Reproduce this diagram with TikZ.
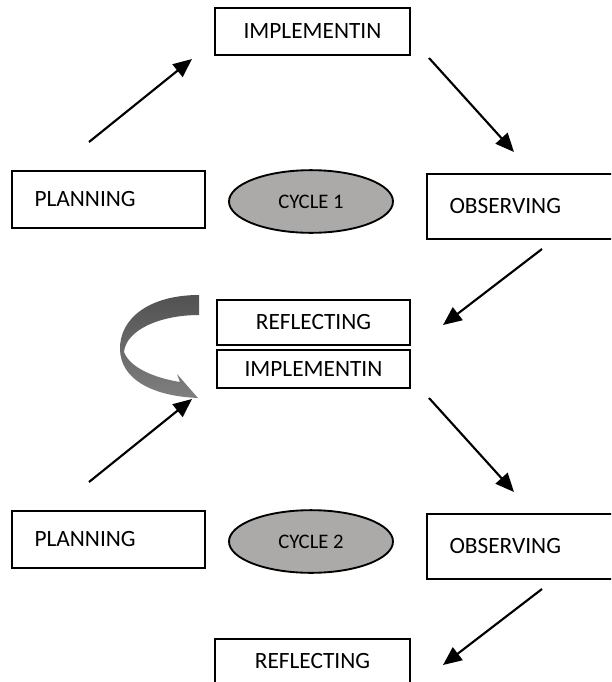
\documentclass[tikz,border=0pt]{standalone}
\usepackage{fontspec}
\setmainfont{Carlito}
\usetikzlibrary{shapes.geometric,arrows.meta}
\definecolor{cyclegray}{RGB}{172,169,169}
\tikzset{
  box/.style={draw, line width=1.5pt, minimum width=145pt, inner sep=0pt, font=\fontsize{17.5}{20}\selectfont},
  sidebox/.style={box, text width=111pt, align=left, minimum height=42.75pt},
  cycle/.style={draw, ellipse, line width=1.4pt, fill=cyclegray, minimum width=123pt, minimum height=47pt, inner sep=0pt, font=\fontsize{15.5}{18}\selectfont},
  arr/.style={line width=1.6pt, -{Triangle[length=14pt,width=12pt]}}
}
\begin{document}
\begin{tikzpicture}[x=0.75pt, y=-0.75pt]
        \clip (0,0) rectangle (611,682);
        \node [box, minimum width=146pt, minimum height=35.25pt] (impl1) at (312.5,31.5) {IMPLEMENTIN};
        \node [sidebox] (plan1) at (108.5,199.5) {PLANNING};
        \node [cycle] (cyc1) at (311,201.5) {CYCLE 1};
        \node [sidebox, minimum height=48.75pt] (obs1) at (523.5,206.5) {OBSERVING};
        \node [box, minimum height=33.75pt] (refl1) at (313.5,322.5) {REFLECTING};
        \node [box, minimum height=28.5pt] (impl2) at (313.5,369) {IMPLEMENTIN};
        \node [sidebox] (plan2) at (108.5,539.5) {PLANNING};
        \node [cycle] (cyc2) at (311,541.5) {CYCLE 2};
        \node [sidebox, minimum height=48.75pt] (obs2) at (523.5,546.5) {OBSERVING};
        \node [box, minimum width=146pt, minimum height=33.75pt] (refl2) at (312.5,661.5) {REFLECTING};
        \coordinate (a1) at (89,142);  \coordinate (b1) at (192,59);
        \coordinate (c1) at (429,58);  \coordinate (d1) at (514,152);
        \coordinate (e1) at (542,249); \coordinate (f1) at (443,325);
        \coordinate (a2) at (89,482);  \coordinate (b2) at (192,399);
        \coordinate (c2) at (429,398); \coordinate (d2) at (514,492);
        \coordinate (e2) at (542,589); \coordinate (f2) at (443,665);
        \draw [arr] (a1) -- (b1);
        \draw [arr] (c1) -- (d1);
        \draw [arr] (e1) -- (f1);
        \draw [arr] (a2) -- (b2);
        \draw [arr] (c2) -- (d2);
        \draw [arr] (e2) -- (f2);
        \shade [top color=black!68, bottom color=black!50]
          (199,295) .. controls (150,295) and (119,318) .. (120,350)
          .. controls (121,378) and (150,396) .. (198,398)
          -- (177,374) -- (180,382)
          .. controls (155,378) and (130,368) .. (124,352)
          .. controls (126,330) and (160,315) .. (199,315) -- cycle;
    \end{tikzpicture}
\end{document}
